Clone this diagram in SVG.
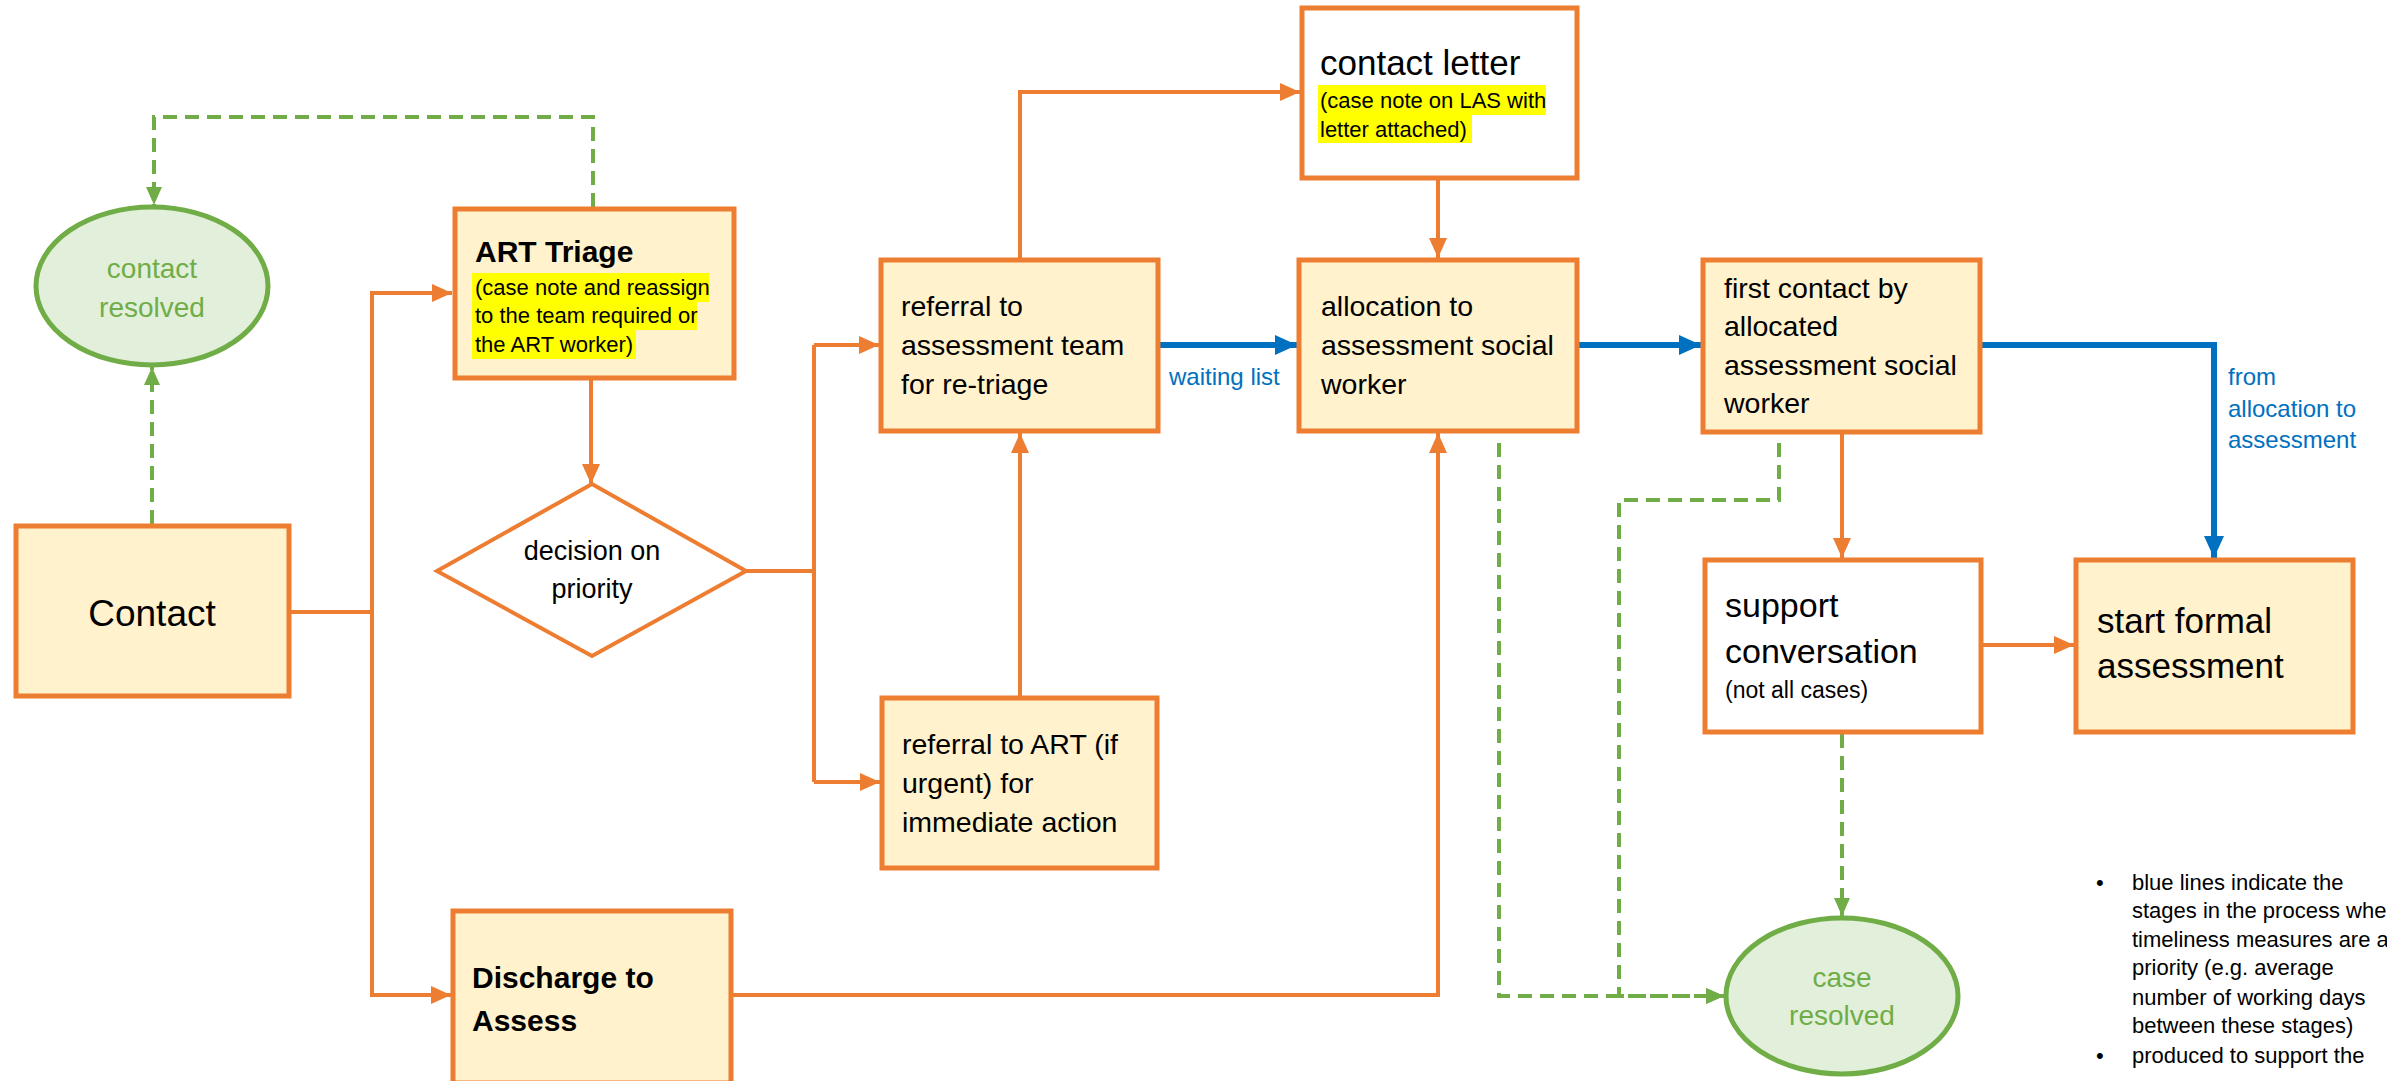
<svg xmlns="http://www.w3.org/2000/svg" width="2387" height="1081" viewBox="0 0 2387 1081">
<defs>
<style>
.box{fill:#FFF2CC;stroke:#ED7D31;stroke-width:5}
.wbox{fill:#FFFFFF;stroke:#ED7D31;stroke-width:5}
.ell{fill:#E2EFDA;stroke:#70AD47;stroke-width:5}
.t{font-family:"Liberation Sans",Arial,sans-serif;fill:#000}
.b{font-size:28.5px}
.hl{font-size:22px}
.g{font-family:"Liberation Sans",Arial,sans-serif;fill:#70AD47;font-size:28px;text-anchor:middle}
.bl{font-family:"Liberation Sans",Arial,sans-serif;fill:#0070C0;font-size:24px}
.or{fill:none;stroke:#ED7D31;stroke-width:4}
.blu{fill:none;stroke:#0070C0;stroke-width:6}
.gd{fill:none;stroke:#70AD47;stroke-width:4;stroke-dasharray:14 8}
.yel{fill:#FFFF00}
</style>
<marker id="ao" markerUnits="userSpaceOnUse" markerWidth="20" markerHeight="18" refX="20" refY="9" orient="auto"><path d="M0,0 L20,9 L0,18 z" fill="#ED7D31"/></marker>
<marker id="ab" markerUnits="userSpaceOnUse" markerWidth="22" markerHeight="20" refX="22" refY="10" orient="auto"><path d="M0,0 L22,10 L0,20 z" fill="#0070C0"/></marker>
<marker id="ag" markerUnits="userSpaceOnUse" markerWidth="18" markerHeight="16" refX="18" refY="8" orient="auto"><path d="M0,0 L18,8 L0,16 z" fill="#70AD47"/></marker>
</defs>
<rect x="0" y="0" width="2387" height="1081" fill="#FFFFFF"/>

<g id="connectors">
<!-- orange -->
<polyline class="or" points="290,612 372,612 372,293 452,293" marker-end="url(#ao)"/>
<polyline class="or" points="372,612 372,995 451,995" marker-end="url(#ao)"/>
<line class="or" x1="591" y1="380" x2="591" y2="484" marker-end="url(#ao)"/>
<polyline class="or" points="746,571 814,571"/>
<polyline class="or" points="814,345 814,782"/>
<line class="or" x1="814" y1="345" x2="879" y2="345" marker-end="url(#ao)"/>
<line class="or" x1="814" y1="782" x2="880" y2="782" marker-end="url(#ao)"/>
<line class="or" x1="1020" y1="696" x2="1020" y2="433" marker-end="url(#ao)"/>
<polyline class="or" points="1020,258 1020,92 1300,92" marker-end="url(#ao)"/>
<line class="or" x1="1438" y1="180" x2="1438" y2="258" marker-end="url(#ao)"/>
<polyline class="or" points="731,995 1438,995 1438,433" marker-end="url(#ao)"/>
<line class="or" x1="1842" y1="434" x2="1842" y2="558" marker-end="url(#ao)"/>
<line class="or" x1="1983" y1="645" x2="2074" y2="645" marker-end="url(#ao)"/>
<!-- blue -->
<line class="blu" x1="1160" y1="345" x2="1297" y2="345" marker-end="url(#ab)"/>
<line class="blu" x1="1579" y1="345" x2="1701" y2="345" marker-end="url(#ab)"/>
<polyline class="blu" points="1982,345 2214,345 2214,558" marker-end="url(#ab)"/>
<!-- green dashed -->
<polyline class="gd" points="593,207 593,117 154,117 154,205" marker-end="url(#ag)"/>
<line class="gd" x1="152" y1="524" x2="152" y2="367" marker-end="url(#ag)"/>
<polyline class="gd" points="1499,443 1499,996 1724,996" marker-end="url(#ag)"/>
<polyline class="gd" points="1779,443 1779,500 1619,500 1619,996 1724,996" marker-end="url(#ag)"/>
<line class="gd" x1="1842" y1="734" x2="1842" y2="916" marker-end="url(#ag)"/>
</g>

<g id="contact">
<rect class="box" x="16" y="526" width="273" height="170"/>
<text class="t" x="152" y="626" font-size="37" text-anchor="middle">Contact</text>
</g>

<g id="contact-resolved">
<ellipse class="ell" cx="152" cy="286" rx="116" ry="79"/>
<text class="g" x="152" y="278">contact</text>
<text class="g" x="152" y="317">resolved</text>
</g>

<g id="art-triage">
<rect class="box" x="455" y="209" width="279" height="169"/>
<text class="t" x="475" y="262" font-size="30" font-weight="bold">ART Triage</text>
<rect class="yel" x="472" y="273" width="237" height="29"/>
<rect class="yel" x="472" y="302" width="225" height="28"/>
<rect class="yel" x="472" y="330" width="164" height="29"/>
<text class="t hl" x="475" y="295">(case note and reassign</text>
<text class="t hl" x="475" y="323">to the team required or</text>
<text class="t hl" x="475" y="352">the ART worker)</text>
</g>

<g id="decision">
<polygon points="437,571 592,484 746,571 592,656" fill="#FFFFFF" stroke="#ED7D31" stroke-width="4"/>
<text class="t" x="592" y="560" font-size="27" text-anchor="middle">decision on</text>
<text class="t" x="592" y="598" font-size="27" text-anchor="middle">priority</text>
</g>

<g id="referral-team">
<rect class="box" x="881" y="260" width="277" height="171"/>
<text class="t b" x="901" y="316">referral to</text>
<text class="t b" x="901" y="355">assessment team</text>
<text class="t b" x="901" y="394">for re-triage</text>
</g>

<g id="referral-art">
<rect class="box" x="882" y="698" width="275" height="170"/>
<text class="t b" x="902" y="754">referral to ART (if</text>
<text class="t b" x="902" y="793">urgent) for</text>
<text class="t b" x="902" y="832">immediate action</text>
</g>

<g id="contact-letter">
<rect class="wbox" x="1302" y="8" width="275" height="170"/>
<text class="t" x="1320" y="75" font-size="35">contact letter</text>
<rect class="yel" x="1318" y="85" width="228" height="30"/>
<rect class="yel" x="1318" y="115" width="154" height="28"/>
<text class="t hl" x="1320" y="108">(case note on LAS with</text>
<text class="t hl" x="1320" y="137">letter attached)</text>
</g>

<g id="allocation">
<rect class="box" x="1299" y="260" width="278" height="171"/>
<text class="t b" x="1321" y="316">allocation to</text>
<text class="t b" x="1321" y="355">assessment social</text>
<text class="t b" x="1321" y="394">worker</text>
</g>

<g id="waiting-label">
<text class="bl" x="1169" y="385">waiting list</text>
</g>

<g id="first-contact">
<rect class="box" x="1703" y="260" width="277" height="172"/>
<text class="t b" x="1724" y="298">first contact by</text>
<text class="t b" x="1724" y="336">allocated</text>
<text class="t b" x="1724" y="375">assessment social</text>
<text class="t b" x="1724" y="413">worker</text>
</g>

<g id="allocation-label">
<text class="bl" x="2228" y="385">from</text>
<text class="bl" x="2228" y="417">allocation to</text>
<text class="bl" x="2228" y="448">assessment</text>
</g>

<g id="support">
<rect class="wbox" x="1705" y="560" width="276" height="172"/>
<text class="t" x="1725" y="617" font-size="34">support</text>
<text class="t" x="1725" y="663" font-size="34">conversation</text>
<text class="t" x="1725" y="698" font-size="23">(not all cases)</text>
</g>

<g id="start-formal">
<rect class="box" x="2076" y="560" width="277" height="172"/>
<text class="t" x="2097" y="633" font-size="35">start formal</text>
<text class="t" x="2097" y="678" font-size="35">assessment</text>
</g>

<g id="discharge">
<rect class="box" x="453" y="911" width="278" height="172"/>
<text class="t" x="472" y="988" font-size="30" font-weight="bold">Discharge to</text>
<text class="t" x="472" y="1031" font-size="30" font-weight="bold">Assess</text>
</g>

<g id="case-resolved">
<ellipse class="ell" cx="1842" cy="996" rx="116" ry="78"/>
<text class="g" x="1842" y="987">case</text>
<text class="g" x="1842" y="1025">resolved</text>
</g>

<g id="notes" class="t" font-size="22">
<text x="2096" y="890">•</text>
<text x="2132" y="890">blue lines indicate the</text>
<text x="2132" y="918">stages in the process where</text>
<text x="2132" y="947">timeliness measures are a</text>
<text x="2132" y="975">priority (e.g. average</text>
<text x="2132" y="1005">number of working days</text>
<text x="2132" y="1033">between these stages)</text>
<text x="2096" y="1063">•</text>
<text x="2132" y="1063">produced to support the</text>
</g>
</svg>
